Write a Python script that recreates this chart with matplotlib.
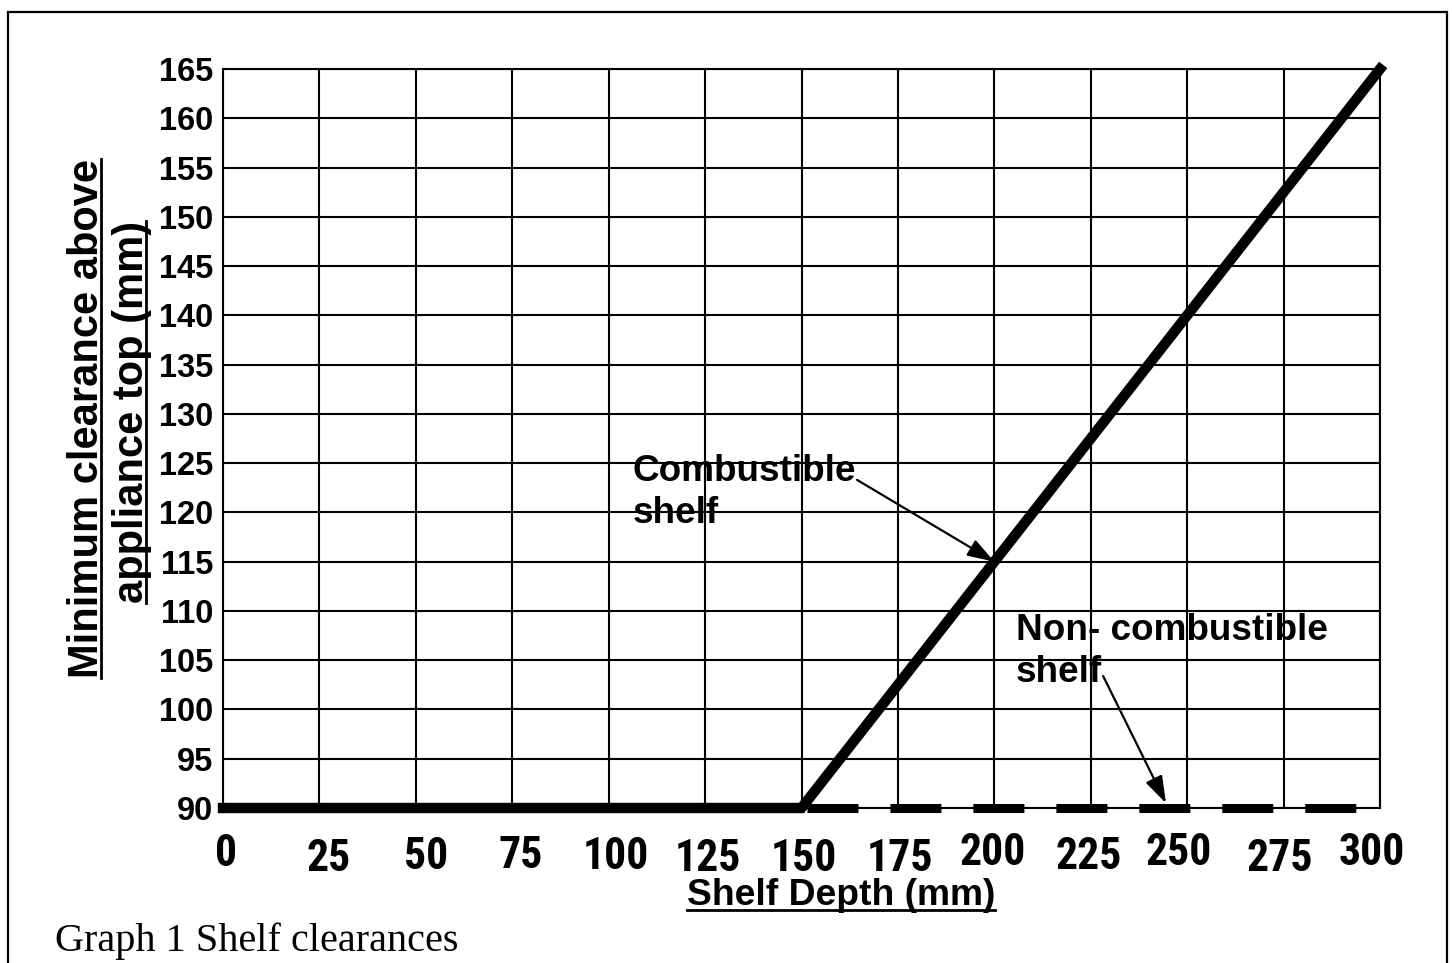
import matplotlib
matplotlib.use("Agg")
import matplotlib.pyplot as plt
from matplotlib import font_manager
from matplotlib.transforms import ScaledTranslation, blended_transform_factory
from matplotlib.patches import Rectangle
from matplotlib.lines import Line2D

# ---------------- data ----------------
x_ticks = [0, 25, 50, 75, 100, 125, 150, 175, 200, 225, 250, 275, 300]
x_tick_labels = [str(v) for v in x_ticks]
y_ticks = list(range(90, 166, 5))
y_tick_labels = [str(v) for v in y_ticks]

combustible_x = [0, 150, 300]
combustible_y = [90, 90, 165]
noncombustible_x = [150, 300]
noncombustible_y = [90, 90]

title_text = "Graph 1 Shelf clearances"
xlabel_text = "Shelf Depth (mm)"
ylabel_lines = ["Minimum clearance above", "appliance top (mm)"]

# ---------------- styling ----------------
W, H, DPI = 1452, 963, 100
SANS = "Liberation Sans"
NARROW = SANS
for cand in ("Liberation Sans Narrow", "Arial Narrow", "Roboto Condensed", "Open Sans Condensed"):
    try:
        font_manager.findfont(font_manager.FontProperties(family=cand, weight="bold"),
                              fallback_to_default=False)
        NARROW = cand
        break
    except Exception:
        pass

plt.rcParams["font.family"] = [SANS, "DejaVu Sans"]

fig = plt.figure(figsize=(W / DPI, H / DPI), dpi=DPI)
fig.patch.set_facecolor("white")

def px_fig(x, y):
    return x / W, 1 - y / H

L, R, T, B = 223, 1380, 69, 808
ax = fig.add_axes([L / W, 1 - B / H, (R - L) / W, (B - T) / H])
ax.set_xlim(0, 300)
ax.set_ylim(90, 165)

ax.set_xticks(x_ticks)
ax.set_yticks(y_ticks)
ax.grid(True, color="black", linewidth=1.5)
ax.set_axisbelow(True)
for s in ax.spines.values():
    s.set_linewidth(1.5)
    s.set_color("black")
ax.tick_params(axis="both", length=0)
ax.set_xticklabels([])
ax.set_yticklabels(y_tick_labels, fontsize=23.5, fontweight="bold", family=SANS)
ax.tick_params(axis="y", pad=7)

# x tick labels (hand-placed look of the original)
dx_px = [3, 9, 10, 8, 7, 3, 2, 2, -2, -2, -8, -4, -8]
top_px = [833, 838, 836, 835, 836, 838, 838, 838, 832, 836, 832, 838, 832]
btrans = blended_transform_factory(ax.transData, ax.transAxes)
xt_size = 31.5 if NARROW != SANS else 30
for xv, lab, dx, tp in zip(x_ticks, x_tick_labels, dx_px, top_px):
    off = ScaledTranslation(dx / DPI, -(tp - B) / DPI, fig.dpi_scale_trans)
    ax.text(xv, 0, lab, transform=btrans + off, ha="center", va="top",
            fontsize=xt_size, fontweight="bold", family=NARROW, clip_on=False)

# lines
ax.plot(noncombustible_x, noncombustible_y, color="black", linewidth=6.5,
        linestyle=(8.64, (5.65, 3.54)), dash_capstyle="butt", clip_on=False, zorder=3)
ax.plot(combustible_x, combustible_y, color="black", linewidth=7.5,
        solid_capstyle="projecting", solid_joinstyle="miter", clip_on=False, zorder=4)

# annotations
arrow_style = "-|>,head_length=0.75,head_width=0.25"
ax.text(106.1, 125.9, "Combustible\nshelf", ha="left", va="top", fontsize=26.6,
        fontweight="bold", linespacing=1.25, zorder=5)
ax.annotate("", xy=(200, 115), xytext=(164.4, 123.3),
            arrowprops=dict(arrowstyle=arrow_style, color="black", lw=1.6,
                            mutation_scale=22, shrinkA=0, shrinkB=0), zorder=5)
ax.text(205.6, 109.8, "Non- combustible\nshelf", ha="left", va="top", fontsize=26.6,
        fontweight="bold", linespacing=1.25, zorder=5)
ax.annotate("", xy=(244.5, 90.5), xytext=(228.2, 103.4),
            arrowprops=dict(arrowstyle=arrow_style, color="black", lw=1.6,
                            mutation_scale=22, shrinkA=0, shrinkB=0), zorder=5)

# axis labels
xl = fig.text(*px_fig(841, 905), xlabel_text, ha="center", va="baseline",
              fontsize=26.8, fontweight="bold")
yl1 = fig.text(*px_fig(98, 419), ylabel_lines[0], rotation=90, rotation_mode="anchor",
               ha="center", va="baseline", fontsize=30, fontweight="bold")
yl2 = fig.text(*px_fig(143, 412), ylabel_lines[1], rotation=90, rotation_mode="anchor",
               ha="center", va="baseline", fontsize=30, fontweight="bold")

# caption
fig.text(*px_fig(55, 951), title_text, ha="left", va="baseline", fontsize=29,
         family=["Liberation Serif", "DejaVu Serif"])

# border
fig.add_artist(Rectangle(px_fig(8, 1000), 1439 / W, (1000 - 12) / H,
                         transform=fig.transFigure, fill=False, lw=1.6,
                         edgecolor="black", clip_on=False))

# underlines
fig.canvas.draw()
r = fig.canvas.get_renderer()
bb = xl.get_window_extent(r)
uy = H - 910
fig.add_artist(Line2D([bb.x0 / W, bb.x1 / W], [uy / H, uy / H], color="black", lw=2.0,
                      transform=fig.transFigure))
for t, ux in ((yl1, 101), (yl2, 146)):
    bb = t.get_window_extent(r)
    fig.add_artist(Line2D([ux / W, ux / W], [bb.y0 / H, bb.y1 / H], color="black", lw=2.0,
                          transform=fig.transFigure))

fig.savefig("out.png", dpi=DPI, facecolor="white")
